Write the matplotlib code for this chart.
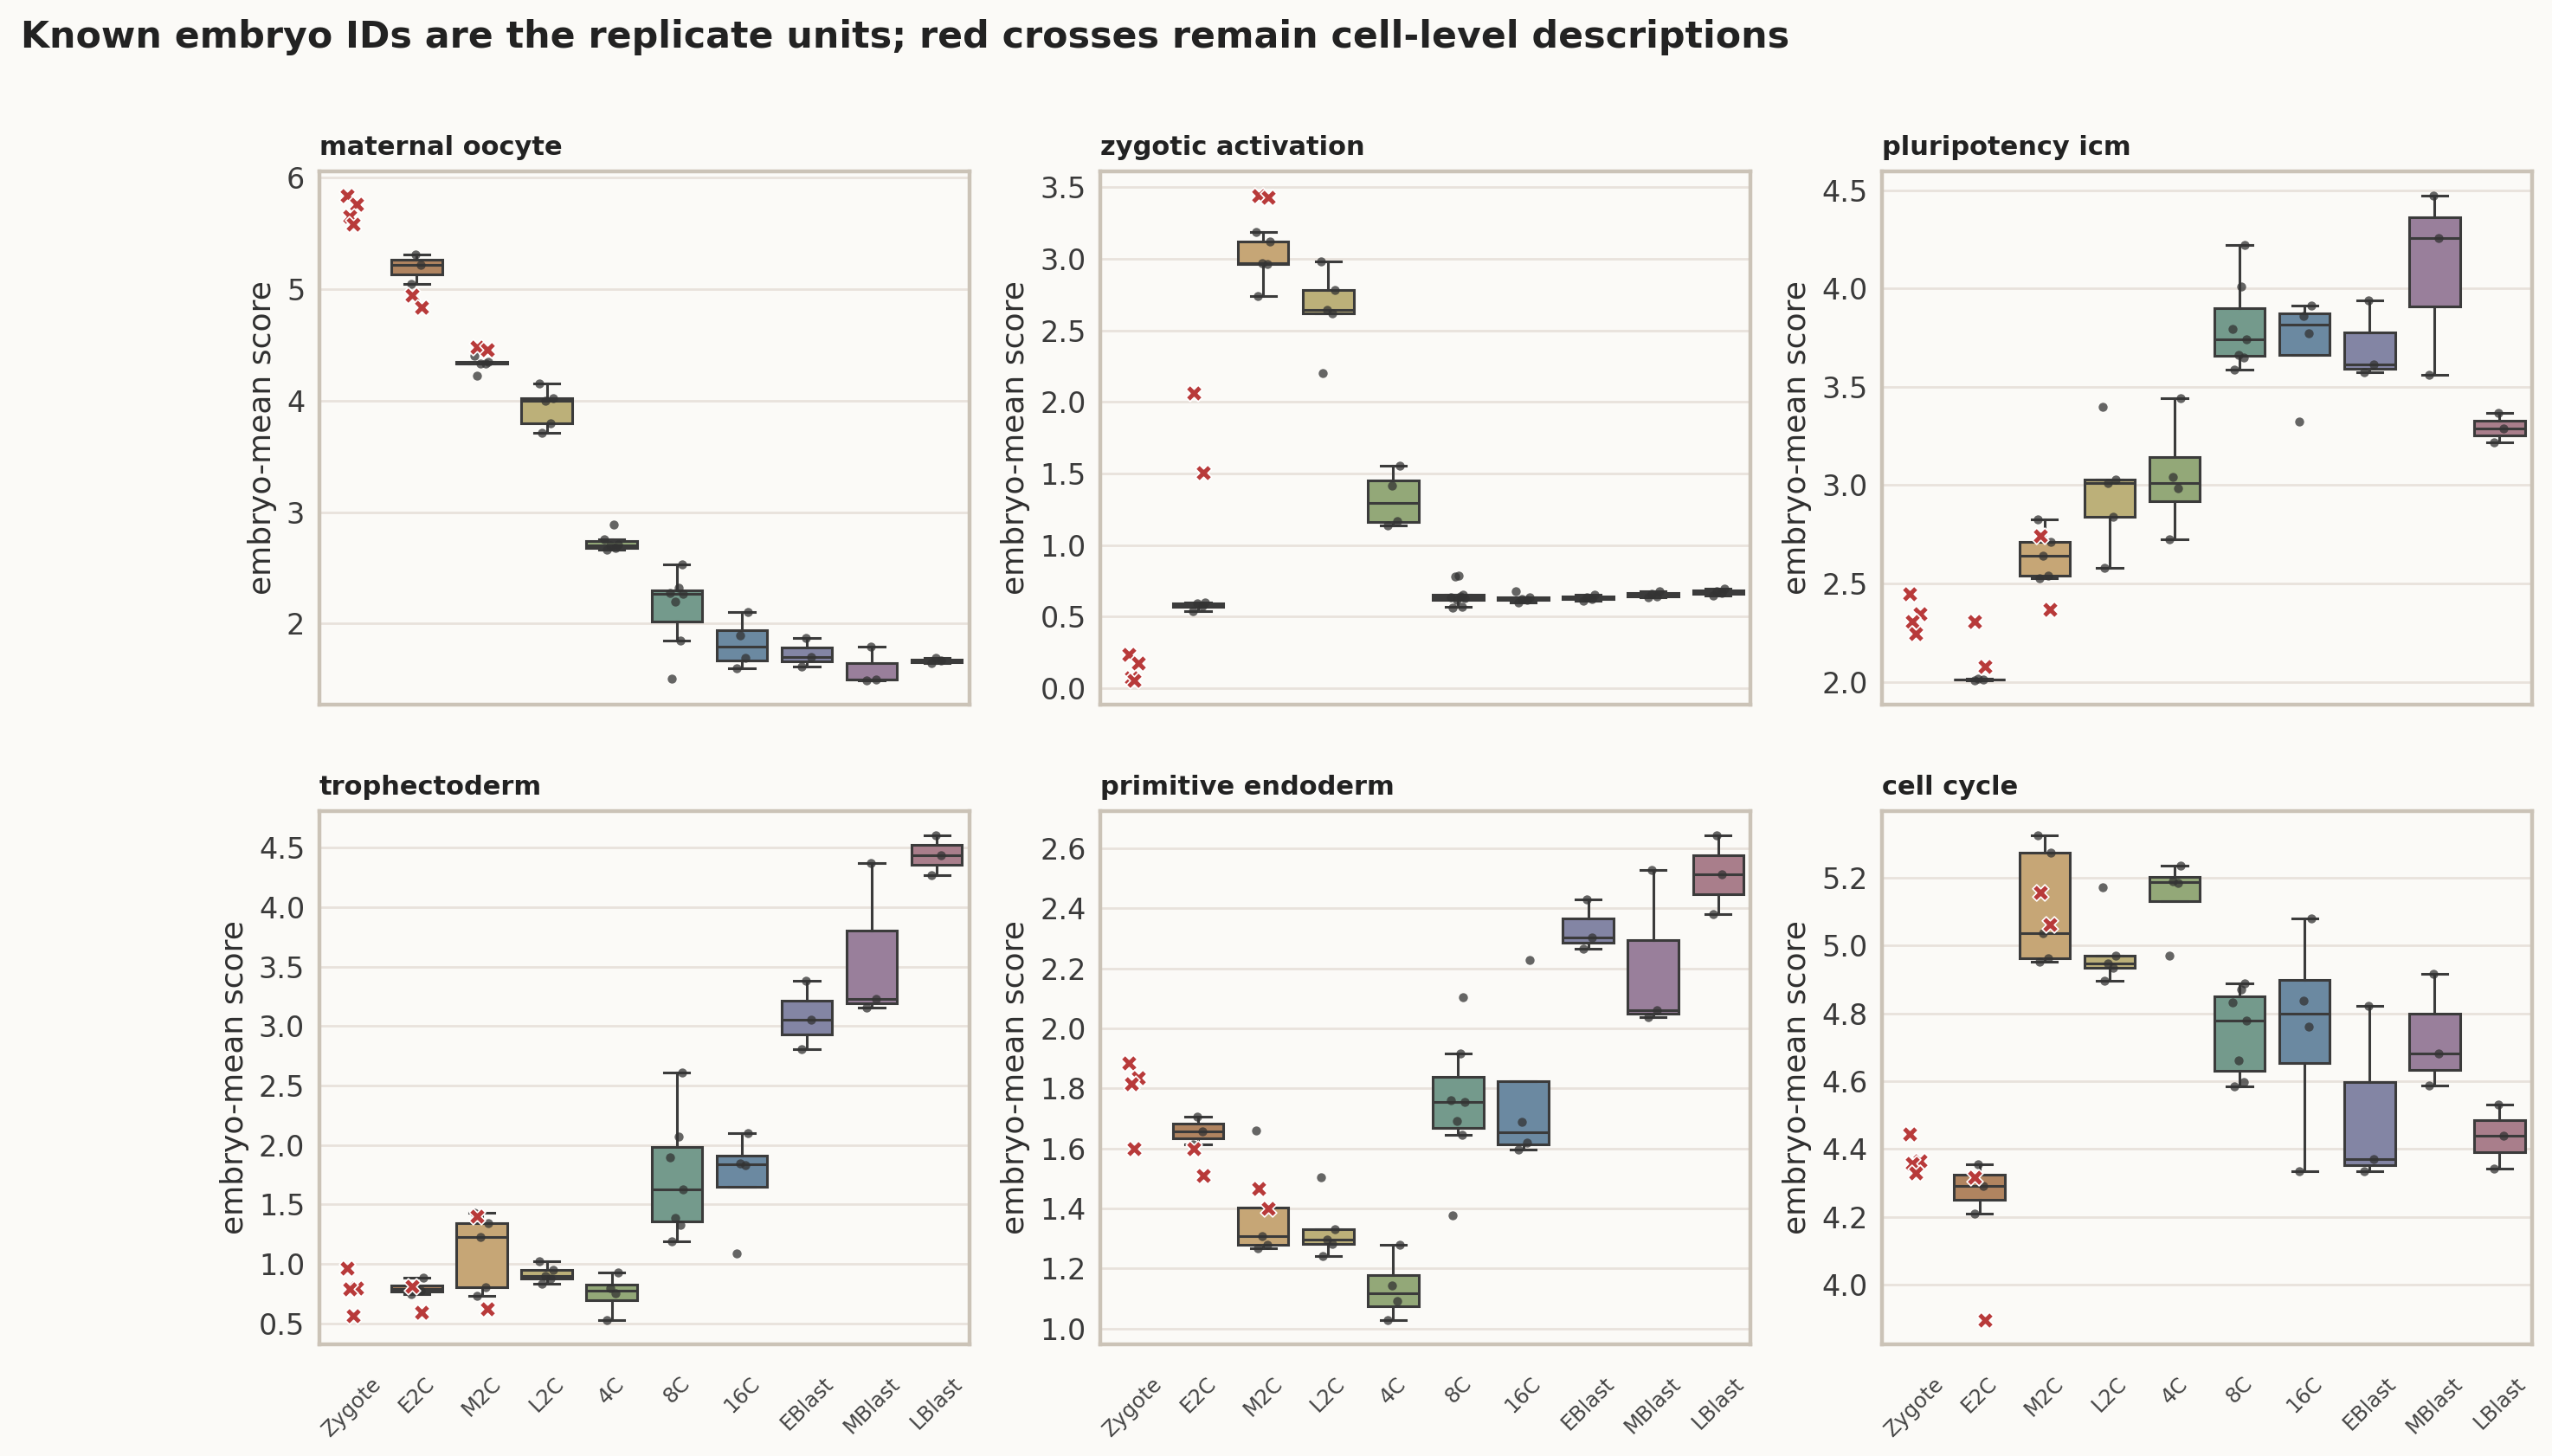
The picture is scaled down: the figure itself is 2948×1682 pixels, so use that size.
import matplotlib
matplotlib.use('Agg')
import matplotlib.pyplot as plt
import numpy as np

STAGES = ['Zygote', 'E2C', 'M2C', 'L2C', '4C', '8C', '16C', 'EBlast', 'MBlast', 'LBlast']
STAGE_COLORS = ['#a8705e', '#b08460', '#c6a676', '#bcb079', '#93a878',
                '#749a8c', '#6b89a1', '#8385a4', '#997f9b', '#a97e8b']
PANEL_TITLES = ['maternal oocyte', 'zygotic activation', 'pluripotency icm',
                'trophectoderm', 'primitive endoderm', 'cell cycle']
CELL_STAGES = ['Zygote', 'E2C', 'M2C']   # stages without known embryo IDs for some cells

# embryo-mean scores, one list per stage (Zygote has no known embryos)
maternal_oocyte_embryo = [
    [], [5.05, 5.22, 5.31], [4.22, 4.33, 4.335, 4.345, 4.40], [3.71, 3.80, 4.00, 4.02, 4.155],
    [2.665, 2.675, 2.70, 2.71, 2.755, 2.885], [1.505, 1.845, 2.195, 2.265, 2.27, 2.32, 2.527],
    [1.60, 1.69, 1.89, 2.10], [1.613, 1.70, 1.87], [1.49, 1.50, 1.79], [1.645, 1.665, 1.69],
]
maternal_oocyte_cells = [[5.84, 5.76, 5.65, 5.58], [4.95, 4.84], [4.48, 4.46]]

zygotic_activation_embryo = [
    [], [0.54, 0.575, 0.595, 0.60], [2.74, 2.96, 2.97, 3.118, 3.188], [2.202, 2.615, 2.645, 2.78, 2.978],
    [1.136, 1.17, 1.413, 1.556], [0.565, 0.57, 0.62, 0.63, 0.635, 0.64, 0.655, 0.78, 0.785],
    [0.60, 0.615, 0.625, 0.635, 0.68], [0.613, 0.625, 0.635, 0.652], [0.635, 0.64, 0.66, 0.675],
    [0.65, 0.665, 0.68, 0.695],
]
zygotic_activation_cells = [[0.237, 0.175, 0.075, 0.056], [2.06, 1.508], [3.44, 3.43]]

pluripotency_icm_embryo = [
    [], [2.008, 2.012, 2.016], [2.526, 2.54, 2.64, 2.712, 2.826], [2.58, 2.838, 3.013, 3.028, 3.396],
    [2.724, 2.983, 3.042, 3.443], [3.586, 3.651, 3.661, 3.74, 3.793, 4.009, 4.221],
    [3.325, 3.773, 3.858, 3.911], [3.573, 3.612, 3.94], [3.561, 4.256, 4.472], [3.219, 3.29, 3.366],
]
pluripotency_icm_cells = [[2.449, 2.345, 2.305, 2.247], [2.305, 2.08], [2.742, 2.37]]

trophectoderm_embryo = [
    [], [0.745, 0.775, 0.80, 0.88], [0.73, 0.805, 1.228, 1.343, 1.428], [0.831, 0.879, 0.897, 0.949, 1.024],
    [0.526, 0.749, 0.793, 0.927], [1.187, 1.325, 1.388, 1.629, 1.893, 2.071, 2.606],
    [1.09, 1.83, 1.845, 2.097], [2.806, 3.052, 3.382], [3.156, 3.226, 4.374], [4.27, 4.44, 4.604],
]
trophectoderm_cells = [[0.965, 0.795, 0.79, 0.565], [0.81, 0.589], [1.399, 0.619]]

primitive_endoderm_embryo = [
    [], [1.613, 1.657, 1.707], [1.266, 1.278, 1.307, 1.404, 1.66], [1.242, 1.282, 1.295, 1.332, 1.505],
    [1.028, 1.091, 1.144, 1.28], [1.378, 1.645, 1.692, 1.755, 1.762, 1.915, 2.103],
    [1.597, 1.618, 1.688, 2.228], [2.266, 2.303, 2.431], [2.037, 2.061, 2.528], [2.38, 2.512, 2.643],
]
primitive_endoderm_cells = [[1.884, 1.836, 1.814, 1.599], [1.60, 1.51], [1.466, 1.40]]

cell_cycle_embryo = [
    [], [4.21, 4.292, 4.355], [4.953, 4.963, 5.036, 5.272, 5.324], [4.896, 4.935, 4.946, 4.969, 5.171],
    [4.969, 5.183, 5.19, 5.235], [4.585, 4.598, 4.662, 4.779, 4.832, 4.87, 4.887],
    [4.335, 4.76, 4.837, 5.08], [4.335, 4.37, 4.823], [4.587, 4.681, 4.917], [4.343, 4.438, 4.532],
]
cell_cycle_cells = [[4.444, 4.364, 4.357, 4.329], [4.318, 3.896], [5.156, 5.062]]

EMBRYO = [maternal_oocyte_embryo, zygotic_activation_embryo, pluripotency_icm_embryo,
          trophectoderm_embryo, primitive_endoderm_embryo, cell_cycle_embryo]
CELLS = [maternal_oocyte_cells, zygotic_activation_cells, pluripotency_icm_cells,
         trophectoderm_cells, primitive_endoderm_cells, cell_cycle_cells]

# style
BG = '#fbfaf7'
EDGE = '#3b3b3b'
SPINE = '#cbc3b7'
GRID = '#e8e2dc'
CROSS = '#b83a3a'
DOT_JIT = [-0.08, 0.06, -0.02, 0.10, -0.11, 0.03, 0.08, -0.05, 0.01]
CROSS_JIT = [-0.07, 0.08, -0.03, 0.02]

plt.rcParams['font.family'] = 'DejaVu Sans'
fig, axes = plt.subplots(2, 3, figsize=(14.74, 8.41), dpi=200, sharex=True)
fig.patch.set_facecolor(BG)
fig.subplots_adjust(left=0.1251, right=0.9922, bottom=0.0767, top=0.8823, wspace=0.202, hspace=0.2)

for k, ax in enumerate(axes.flat):
    ax.set_facecolor(BG)
    emb = EMBRYO[k]
    pos = [i for i, v in enumerate(emb) if len(v)]
    bp = ax.boxplot([emb[i] for i in pos], positions=pos, widths=0.78, patch_artist=True,
                    showfliers=False, whis=1.5, capwidths=0.39,
                    boxprops=dict(edgecolor=EDGE, linewidth=1.1),
                    whiskerprops=dict(color=EDGE, linewidth=1.1),
                    capprops=dict(color=EDGE, linewidth=1.1),
                    medianprops=dict(color=EDGE, linewidth=1.1))
    for patch, i in zip(bp['boxes'], pos):
        patch.set_facecolor(STAGE_COLORS[i])
        patch.set_zorder(2)
    # embryo points
    for i in pos:
        vals = emb[i]
        xs = [i + DOT_JIT[j % len(DOT_JIT)] for j in range(len(vals))]
        ax.scatter(xs, vals, s=14, color='#333333', alpha=0.75, linewidths=0, zorder=3)
    # cell-level crosses
    for stage, vals in zip(CELL_STAGES, CELLS[k]):
        i = STAGES.index(stage)
        xs = [i + CROSS_JIT[j % len(CROSS_JIT)] for j in range(len(vals))]
        ax.scatter(xs, vals, s=46, marker='X', color=CROSS, edgecolors='white',
                   linewidths=0.6, zorder=4)

    ax.set_xlim(-0.5, len(STAGES) - 0.5)
    ax.set_xticks(range(len(STAGES)))
    ax.yaxis.grid(True, color=GRID, linewidth=1.0)
    ax.xaxis.grid(False)
    ax.set_axisbelow(True)
    for sp in ax.spines.values():
        sp.set_color(SPINE)
        sp.set_linewidth(1.6)
    ax.tick_params(axis='both', length=0, colors='#3a3a3a')
    ax.tick_params(axis='y', labelsize=12, pad=6)
    ax.tick_params(axis='x', pad=12)
    ax.set_ylabel('embryo-mean score', fontsize=13, color='#2f2f2f')
    ax.set_title(PANEL_TITLES[k], loc='left', fontsize=11, fontweight='bold', color='#222222', pad=7)
    if k >= 3:
        ax.set_xticklabels(STAGES, rotation=45, fontsize=8.7, color='#444444')
    else:
        ax.tick_params(axis='x', labelbottom=False)

fig.text(0.0081, 0.9673, 'Known embryo IDs are the replicate units; red crosses remain cell-level descriptions',
         fontsize=15.4, fontweight='bold', color='#222222', ha='left', va='baseline')

plt.savefig('out.png', dpi=200, facecolor=BG)
plt.close('all')
